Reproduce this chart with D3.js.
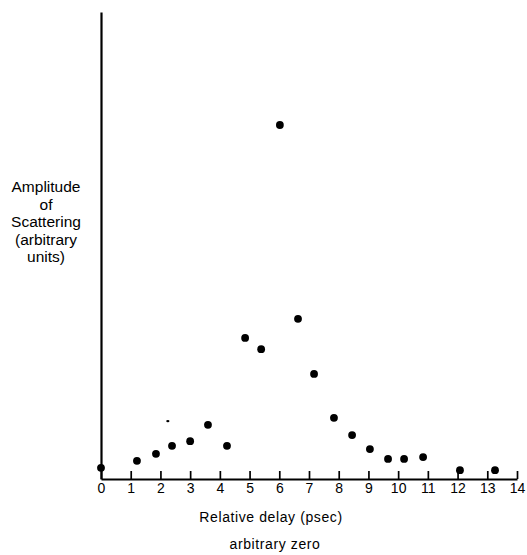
<!DOCTYPE html>
<html lang="en">
<head>
    <meta charset="UTF-8">
    <title>Amplitude of Scattering vs Relative delay</title>
    <style>
        body { margin: 0; background: #fff; }
        text { font-family: "Liberation Sans", Arial, sans-serif; fill: #000; }
    </style>
</head>
<body>
<script src="https://cdn.jsdelivr.net/npm/d3@7/dist/d3.min.js"></script>
<script>
    // points (delay in psec, amplitude in arbitrary units)
    const delay = [0, 1.21, 1.85, 2.39, 3.0, 3.6, 4.24, 4.85, 5.39, 6.02, 6.63, 7.17, 7.84, 8.45, 9.05, 9.66, 10.2, 10.84, 12.08, 13.26];
    const amplitude = [2.4, 3.9, 5.4, 7.1, 8.1, 11.6, 7.1, 30.2, 27.8, 75.8, 34.3, 22.5, 13.1, 9.4, 6.4, 4.3, 4.3, 4.7, 1.9, 1.9];
    // stray speck near x = 2.25
    const speck = [{x: 2.25, y: 12.4}];
    const xTicks = [0, 1, 2, 3, 4, 5, 6, 7, 8, 9, 10, 11, 12, 13, 14];
    const yLabel = ["Amplitude", "of", "Scattering", "(arbitrary", "units)"];

    const data = delay.map((d, i) => ({x: d, y: amplitude[i]}));

    var W = 527, H = 555;
    var svg = d3.select("body").append("svg")
        .attr("width", W)
        .attr("height", H);

    var xScale = d3.scaleLinear().domain([0, 14]).range([101, 517]);
    var yScale = d3.scaleLinear().domain([0, 100]).range([479, 12]);

    // x axis, ticks pointing up
    var xAxis = d3.axisBottom(xScale)
        .tickValues(xTicks)
        .tickSizeInner(-8)
        .tickSizeOuter(0)
        .tickPadding(4)
        .tickFormat(d3.format("d"));
    var gx = svg.append("g")
        .attr("transform", `translate(0,${yScale(0)})`)
        .call(xAxis);
    gx.select(".domain").attr("stroke", "#000").attr("stroke-width", 2);
    gx.selectAll(".tick line").attr("stroke", "#000").attr("stroke-width", 1.7);
    gx.selectAll(".tick text")
        .attr("font-size", 14)
        .attr("font-family", "Liberation Sans, Arial, sans-serif");

    // y axis: plain line
    var yAxis = d3.axisLeft(yScale).tickValues([]).tickSizeOuter(0);
    var gy = svg.append("g")
        .attr("transform", `translate(${xScale(0)},0)`)
        .call(yAxis);
    gy.select(".domain").attr("stroke", "#000").attr("stroke-width", 2.2);

    // points
    svg.append("g")
        .selectAll("circle")
        .data(data)
        .join("circle")
            .attr("cx", d => xScale(d.x))
            .attr("cy", d => yScale(d.y))
            .attr("r", 3.9)
            .attr("fill", "#000");

    svg.append("g")
        .selectAll("ellipse")
        .data(speck)
        .join("ellipse")
            .attr("cx", d => xScale(d.x))
            .attr("cy", d => yScale(d.y))
            .attr("rx", 1.6)
            .attr("ry", 1.2)
            .attr("fill", "#000");

    // y label, stacked lines
    svg.append("text")
        .attr("x", 46)
        .attr("y", 192)
        .attr("text-anchor", "middle")
        .attr("font-size", 15.5)
        .selectAll("tspan")
        .data(yLabel)
        .join("tspan")
            .attr("x", 46)
            .attr("dy", (d, i) => i === 0 ? 0 : 17.6)
            .text(d => d);

    // x labels
    svg.append("text")
        .attr("x", 271)
        .attr("y", 522)
        .attr("text-anchor", "middle")
        .attr("font-size", 14)
        .attr("letter-spacing", 0.6)
        .text("Relative delay (psec)");

    svg.append("text")
        .attr("x", 275)
        .attr("y", 549)
        .attr("text-anchor", "middle")
        .attr("font-size", 14)
        .attr("letter-spacing", 0.6)
        .text("arbitrary zero");
</script>
</body>
</html>
